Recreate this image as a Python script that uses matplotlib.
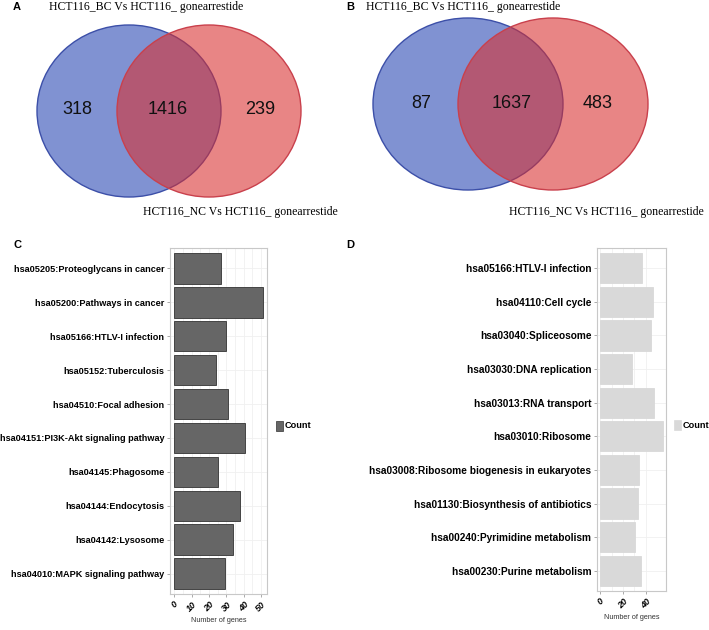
import matplotlib.pyplot as plt
from matplotlib.patches import Ellipse
import numpy as np

W, H = 709, 630

# Venn counts (BC only, shared, NC only)
venn_a = [318, 1416, 239]
venn_b = [87, 1637, 483]
venn_top = "HCT116_BC Vs HCT116_ gonearrestide"
venn_bottom = "HCT116_NC Vs HCT116_ gonearrestide"

# KEGG pathways, top to bottom
terms_c = ["hsa05205:Proteoglycans in cancer", "hsa05200:Pathways in cancer",
           "hsa05166:HTLV-I infection", "hsa05152:Tuberculosis",
           "hsa04510:Focal adhesion", "hsa04151:PI3K-Akt signaling pathway",
           "hsa04145:Phagosome", "hsa04144:Endocytosis",
           "hsa04142:Lysosome", "hsa04010:MAPK signaling pathway"]
counts_c = [27, 51, 30, 24, 31, 41, 25, 38, 34, 29]

terms_d = ["hsa05166:HTLV-I infection", "hsa04110:Cell cycle",
           "hsa03040:Spliceosome", "hsa03030:DNA replication",
           "hsa03013:RNA transport", "hsa03010:Ribosome",
           "hsa03008:Ribosome biogenesis in eukaryotes",
           "hsa01130:Biosynthesis of antibiotics",
           "hsa00240:Pyrimidine metabolism", "hsa00230:Purine metabolism"]
counts_d = [37, 46, 45, 28, 47, 55, 34, 33, 31, 36]

SANS = ["Liberation Sans", "DejaVu Sans"]
SERIF = ["Liberation Serif", "DejaVu Serif"]


def box(x0, y0, x1, y1):
    # pixel box -> figure fraction
    return [x0 / W, 1 - y1 / H, (x1 - x0) / W, (y1 - y0) / H]


fig = plt.figure(figsize=(W / 100, H / 100), dpi=100)

# overlay axes in pixel coords for Venn diagrams, letters and legends
ov = fig.add_axes([0, 0, 1, 1])
ov.set_xlim(0, W)
ov.set_ylim(H, 0)
ov.axis("off")


def venn(cx1, cx2, cy, rx, ry, counts, lx, tx, bx):
    blue = Ellipse((cx1, cy), 2 * rx, 2 * ry, facecolor=(0.17, 0.29, 0.71, 0.6),
                   edgecolor="#3c4fa8", lw=1.0)
    red = Ellipse((cx2, cy), 2 * rx, 2 * ry, facecolor=(0.85, 0.18, 0.18, 0.58),
                  edgecolor="#c9404c", lw=1.0)
    ov.add_patch(blue)
    ov.add_patch(red)
    for x, c in zip(lx, counts):
        ov.text(x, cy - 1, str(c), ha="center", va="center", fontsize=13,
                family=SANS, color="#111111")
    ov.text(tx, 7, venn_top, ha="center", va="center", fontsize=8.5, family=SERIF)
    ov.text(bx, 212, venn_bottom, ha="center", va="center", fontsize=8.5, family=SERIF)


venn(129, 209, 111, 92, 86, venn_a, [77, 168, 260], 146, 240)
venn(468, 553, 104, 95, 86, venn_b, [421, 512, 598], 463, 606)

for lbl, x, y in [("A", 17, 7), ("B", 350, 7), ("C", 17, 245), ("D", 350, 245)]:
    ov.text(x, y, lbl, ha="center", va="center", fontsize=8, weight="bold", family=SANS)


def bar_panel(rect, terms, counts, face, edge, step, legx, legy, fs):
    ax = fig.add_axes(rect)
    y = np.arange(len(terms))
    ax.barh(y, counts, height=0.9, color=face, edgecolor=edge, lw=0.6, zorder=2)
    ax.set_xlim(-max(counts) * 0.05, max(counts) * 1.05)
    ax.set_ylim(len(terms) - 0.4, -0.6)
    ticks = np.arange(0, max(counts) + 0.01, step)
    ax.set_xticks(ticks)
    ax.set_xticks(ticks[:-1] + step / 2, minor=True)
    ax.set_xticklabels([str(int(t)) for t in ticks], rotation=45, ha="center",
                       va="top", fontsize=6.5, weight="bold", style="italic", family=SANS)
    ax.set_yticks(y)
    ax.set_yticklabels(terms, fontsize=fs, weight="bold", family=SANS)
    ax.tick_params(axis="both", length=2, width=0.5, color="#888888", pad=2)
    ax.tick_params(axis="x", which="minor", length=0)
    ax.grid(True, which="both", color="#f0f0f0", lw=0.6, zorder=0)
    for s in ax.spines.values():
        s.set_color("#c8c8c8")
        s.set_linewidth(0.8)
    ax.set_xlabel("Number of genes", fontsize=5.2, family=SANS, color="#333333",
                  labelpad=3)
    ov.add_patch(plt.Rectangle((legx, legy - 5), 7, 10, facecolor=face,
                               edgecolor=edge, lw=0.5))
    ov.text(legx + 9, legy, "Count", ha="left", va="center", fontsize=6.6,
            weight="bold", family=SANS)
    return ax


bar_panel(box(170, 248, 267, 594), terms_c, counts_c, "#666666", "#333333", 10, 276, 426, 6.6)
bar_panel(box(597, 248, 666, 591), terms_d, counts_d, "#d9d9d9", "#d9d9d9", 20, 674, 425, 7.3)

fig.savefig("out.png", dpi=100)
